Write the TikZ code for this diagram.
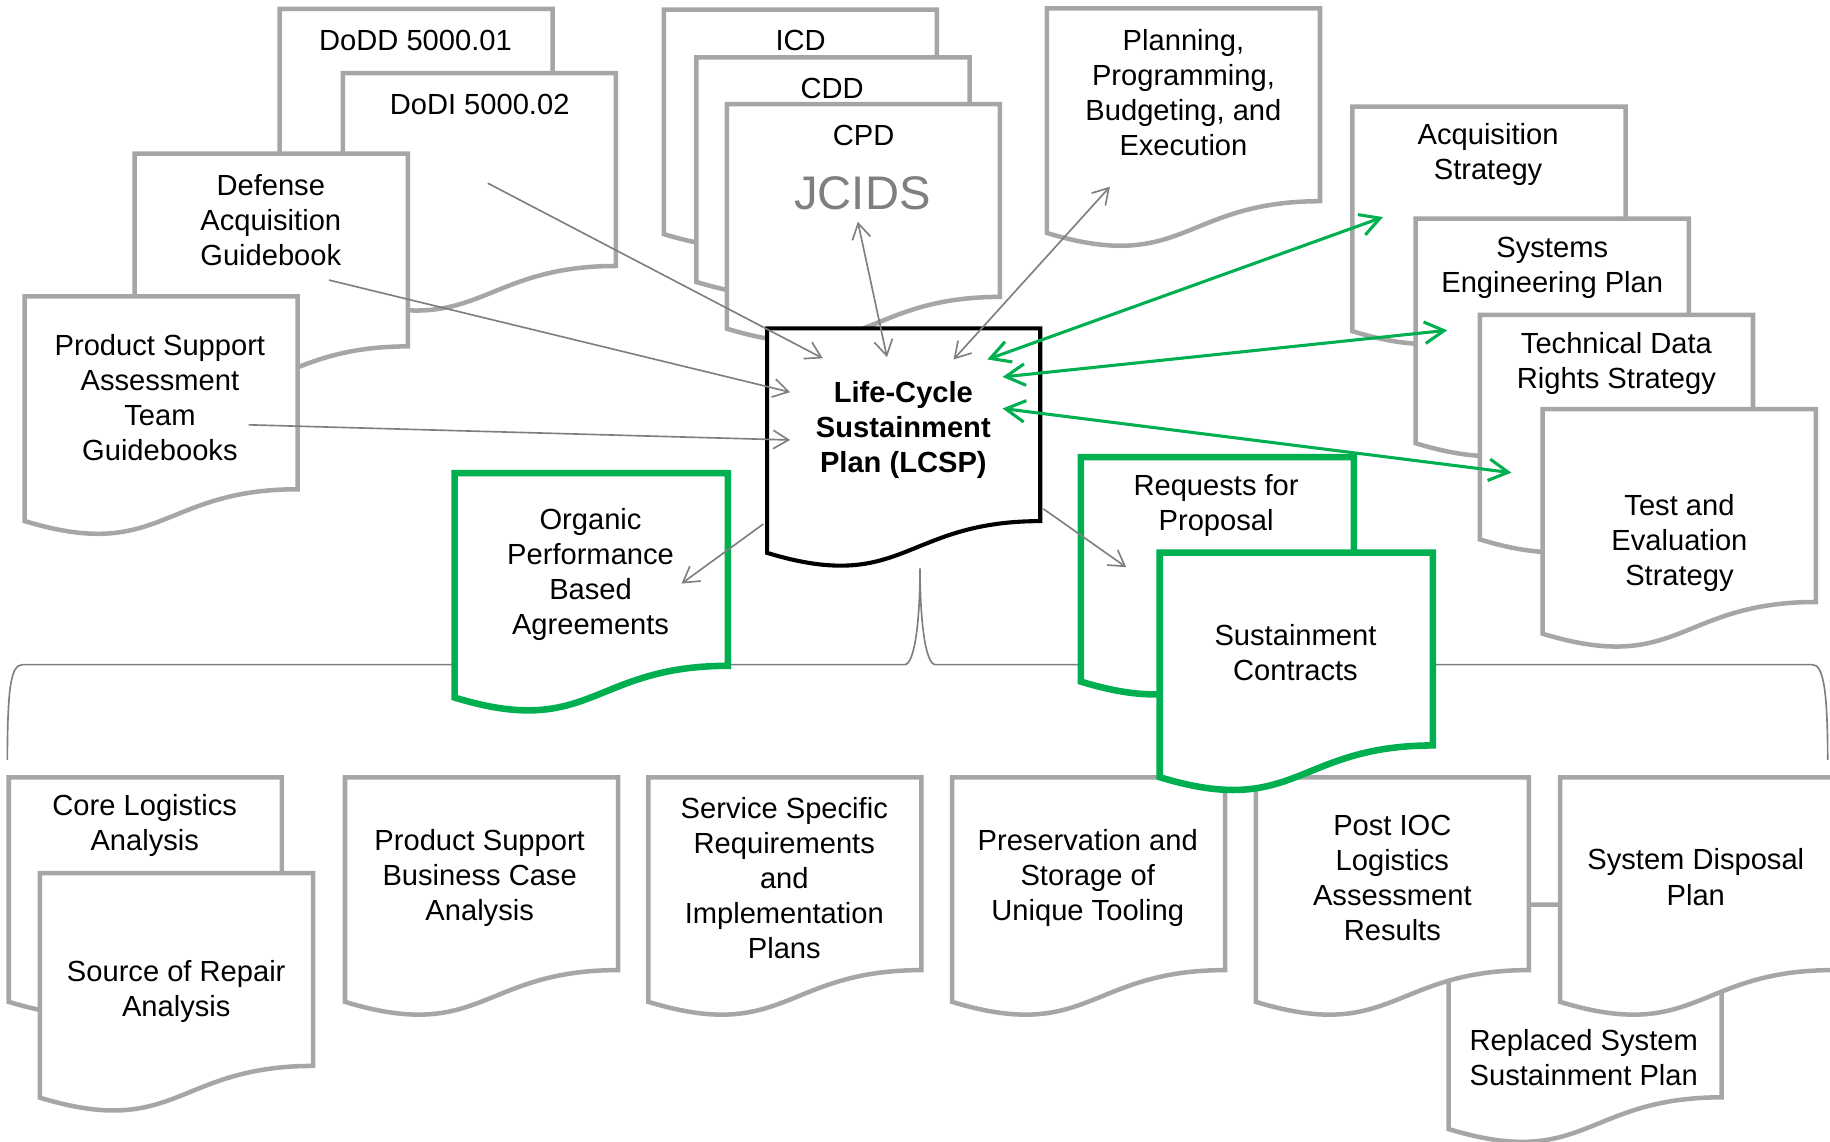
\documentclass[tikz,border=0pt]{standalone}
\usepackage{fontspec}
\setmainfont{Liberation Sans}
\usetikzlibrary{arrows.meta}

\definecolor{docgray}{HTML}{A6A6A6}
\definecolor{linegray}{HTML}{7F7F7F}
\definecolor{docgreen}{HTML}{00B050}

% document sheet: style, left, top (width 234, height 206)
\newcommand{\docshape}[3]{%
  \filldraw[#1] (#2,#3) -- (#2+234,#3) -- (#2+234,#3+165.2)
    .. controls (#2+117,#3+165.2) and (#2+117,#3+228.1) .. (#2,#3+192.4) -- cycle;}

\begin{document}
\begin{tikzpicture}[x=0.02cm, y=-0.02cm]
      \tikzset{graydoc/.style={draw=docgray, fill=white, line width=2.2pt},
               greendoc/.style={draw=docgreen, fill=white, line width=3.2pt},
               maindoc/.style={draw=black, fill=white, line width=2pt},
               doctext/.style={align=center, inner sep=0pt, yshift=-0.05cm, font=\fontsize{14.2}{17.1}\selectfont},
               feed/.style={color=linegray, line width=0.8pt, -{Straight Barb[length=7.5pt,width=9pt]}},
               feedboth/.style={color=linegray, line width=0.8pt, {Straight Barb[length=7.5pt,width=9pt]}-{Straight Barb[length=7.5pt,width=9pt]}},
               greenlink/.style={color=docgreen, line width=1.5pt, {Straight Barb[length=9.5pt,width=10.5pt]}-{Straight Barb[length=9.5pt,width=10.5pt]}},
               brace/.style={draw=linegray, line width=0.8pt}}
      \useasboundingbox (0,0) rectangle (1568,978);
      \clip (0,0) rectangle (1568,978);
%% Brace
      	\draw[brace] (6.3,651) .. controls (6.5,590) and (9,569.5) .. (19.4,569.5) -- (775,569.5)
      		.. controls (784,569.5) and (788.3,530) .. (788.3,487)
      		.. controls (788.3,530) and (792.6,569.5) .. (801.6,569.5) -- (1553,569.5)
      		.. controls (1562,569.5) and (1566,590) .. (1566,651);
%% Documents
	%policy
      	\docshape{graydoc}{239.5}{7.6}
      	\node[doctext] (dodd) at (356,32) {DoDD 5000.01};
      	\docshape{graydoc}{293.7}{62.7}
      	\node[doctext] (dodi) at (411,87) {DoDI 5000.02};
      	\docshape{graydoc}{115.4}{131.6}
      	\node[doctext] (dag) at (232,186) {Defense\\Acquisition\\Guidebook};
      	\docshape{graydoc}{21}{254}
      	\node[doctext] (psat) at (137,338.5) {Product Support\\Assessment\\Team\\Guidebooks};
	%JCIDS
      	\docshape{graydoc}{568.8}{8.2}
      	\node[doctext] (icd) at (686,32) {ICD};
      	\docshape{graydoc}{596.7}{49.2}
      	\node[doctext] (cdd) at (713,73) {CDD};
      	\docshape{graydoc}{622.7}{89.2}
      	\node[doctext] (cpd) at (740,114) {CPD};
      	\node[inner sep=0pt, text=linegray, font=\fontsize{23}{27}\selectfont] (jcids) at (739,166) {JCIDS};
	%budget
      	\docshape{graydoc}{897}{7.2}
      	\node[doctext] (ppbe) at (1014,77) {Planning,\\Programming,\\Budgeting, and\\Execution};
	%strategies
      	\docshape{graydoc}{1158.8}{91.4}
      	\node[doctext] (acq) at (1275,130) {Acquisition\\Strategy};
      	\docshape{graydoc}{1213}{187.4}
      	\node[doctext] (sep) at (1330,227) {Systems\\Engineering Plan};
      	\docshape{graydoc}{1268}{269.8}
      	\node[doctext] (tdrs) at (1385,309) {Technical Data\\Rights Strategy};
      	\docshape{graydoc}{1321.8}{350.6}
      	\node[doctext] (tes) at (1439,463) {Test and\\Evaluation\\Strategy};
	%bottom row
      	\docshape{graydoc}{7.5}{666}
      	\node[doctext] (cla) at (124,705) {Core Logistics\\Analysis};
      	\docshape{graydoc}{34.2}{748.1}
      	\node[doctext] (sor) at (151,847) {Source of Repair\\Analysis};
      	\docshape{graydoc}{295.6}{666}
      	\node[doctext] (psbca) at (411,750) {Product Support\\Business Case\\Analysis};
      	\docshape{graydoc}{555.5}{666}
      	\node[doctext] (ssrip) at (672,750) {Service Specific\\Requirements\\and\\Implementation\\Plans};
      	\docshape{graydoc}{815.8}{666}
      	\node[doctext] (pres) at (932,750) {Preservation and\\Storage of\\Unique Tooling};
      	\docshape{graydoc}{1241.2}{775}
      	\node[doctext] (rssp) at (1357,903.5) {Replaced System\\Sustainment Plan};
      	\docshape{graydoc}{1076}{666}
      	\node[doctext] (postioc) at (1193,749.5) {Post IOC\\Logistics\\Assessment\\Results};
      	\docshape{graydoc}{1336.7}{666}
      	\node[doctext] (sdp) at (1453,749) {System Disposal\\Plan};
	%agreements and contracts
      	\docshape{greendoc}{389.6}{405.3}
      	\node[doctext] (opba) at (506,489.5) {Organic\\Performance\\Based\\Agreements};
      	\docshape{greendoc}{926.1}{391.6}
      	\node[doctext] (rfp) at (1042,431) {Requests for\\Proposal};
      	\docshape{greendoc}{993.7}{473.5}
      	\node[doctext] (sc) at (1110,557) {Sustainment\\Contracts};
	%LCSP
      	\docshape{maindoc}{657.3}{281.3}
      	\node[doctext, font=\fontsize{14.2}{17.1}\selectfont\bfseries] (lcsp) at (774,366) {Life-Cycle\\Sustainment\\Plan (LCSP)};
%% Arrow ends
      	\coordinate (dodi-out) at (418,157);
      	\coordinate (dag-out) at (282,240);
      	\coordinate (psat-out) at (213,364);
      	\coordinate (jcids-end) at (735,190);
      	\coordinate (ppbe-end) at (951,160);
      	\coordinate (opba-end) at (584,500);
      	\coordinate (rfp-end) at (965,486);
      	\coordinate (acq-end) at (1185,186);
      	\coordinate (sep-end) at (1240,283);
      	\coordinate (tes-end) at (1295,405);
      	\coordinate (lcsp-in1) at (705,307);
      	\coordinate (lcsp-in2) at (677,336);
      	\coordinate (lcsp-in3) at (677,377);
      	\coordinate (lcsp-top1) at (760,306);
      	\coordinate (lcsp-top2) at (817,308);
      	\coordinate (lcsp-sw) at (654,449);
      	\coordinate (lcsp-se) at (894,436);
      	\coordinate (lcsp-e1) at (846,308);
      	\coordinate (lcsp-e2) at (859,323);
      	\coordinate (lcsp-e3) at (859,350);
%Arrows
		\path [feed] (dodi-out) edge (lcsp-in1);
		\path [feed] (dag-out) edge (lcsp-in2);
		\path [feed] (psat-out) edge (lcsp-in3);
		\path [feedboth] (jcids-end) edge (lcsp-top1);
		\path [feedboth] (ppbe-end) edge (lcsp-top2);
		\path [feed] (lcsp-sw) edge (opba-end);
		\path [feed] (lcsp-se) edge (rfp-end);
		\path [greenlink] (lcsp-e1) edge (acq-end);
		\path [greenlink] (lcsp-e2) edge (sep-end);
		\path [greenlink] (lcsp-e3) edge (tes-end);

\end{tikzpicture}
\end{document}
